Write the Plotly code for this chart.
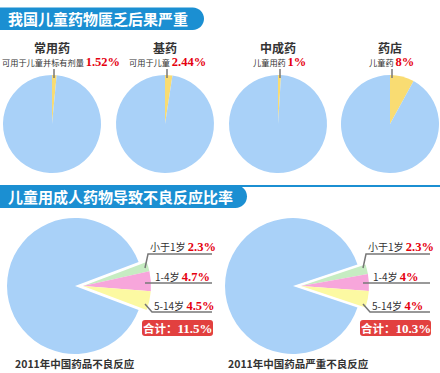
import plotly.graph_objects as go

W, H = 440, 373

# ---------------- data ----------------
section_titles = ["我国儿童药物匮乏后果严重", "儿童用成人药物导致不良反应比率"]

top_titles = ["常用药", "基药", "中成药", "药店"]
top_subtitles = ["可用于儿童并标有剂量", "可用于儿童", "儿童用药", "儿童药"]
top_values = [1.52, 2.44, 1.0, 8.0]
top_pct_labels = ["1.52%", "2.44%", "1%", "8%"]

age_groups = ["小于1岁", "1-4岁", "5-14岁"]
adr_all = [2.3, 4.7, 4.5]
adr_serious = [2.3, 4.0, 4.0]
adr_pct_labels = [["2.3%", "4.7%", "4.5%"], ["2.3%", "4%", "4%"]]
bottom_totals = ["11.5%", "10.3%"]
bottom_captions = ["2011年中国药品不良反应", "2011年中国药品严重不良反应"]

# ---------------- styles ----------------
FONT = "Noto Sans CJK SC"
NUMFONT = "Liberation Serif"
BANNER = "#1b8fd2"
PIE_BLUE = "#a9d1f8"
TOP_YELLOW = "#f9dc72"
AGE_COLORS = ["#c6ecc2", "#f7a6db", "#fcf9a2"]
RED = "#e5000f"
BOX_RED = "#e2403f"
TXT = "#333333"


def X(px):
    return px / W


def Y(py):
    return 1 - py / H


def P(px, py):
    return f"{X(px):.5f},{Y(py):.5f}"


fig = go.Figure()
shapes = []
annotations = []


def num_span(t, size=13):
    return (f"<span style='font-family:{NUMFONT};font-size:{size}px;"
            f"color:{RED};font-weight:bold'><b>{t}</b></span>")


# ---------------- banners ----------------
def banner(y0, y1, xend, text, line=False):
    r = (y1 - y0) / 2
    x1 = xend - r
    ym = (y0 + y1) / 2
    k = 0.55 * r
    path = (f"M {P(0, y0)} L {P(x1, y0)} "
            f"C {P(x1 + k, y0)} {P(xend, ym - k)} {P(xend, ym)} "
            f"C {P(xend, ym + k)} {P(x1 + k, y1)} {P(x1, y1)} "
            f"L {P(0, y1)} Z")
    shapes.append(dict(type="path", xref="paper", yref="paper", path=path,
                       fillcolor=BANNER, line=dict(width=0), layer="above"))
    if line:
        shapes.append(dict(type="line", xref="paper", yref="paper",
                           x0=X(x1), x1=X(W), y0=Y(y0 + 1), y1=Y(y0 + 1),
                           line=dict(color=BANNER, width=2), layer="above"))
    annotations.append(dict(xref="paper", yref="paper", x=X(6), y=Y(ym),
                            xanchor="left", yanchor="middle", showarrow=False,
                            text=f"<b>{text}</b>",
                            font=dict(family=FONT, size=15, color="white")))


banner(7.5, 30, 204, section_titles[0])
banner(185, 208, 247, section_titles[1], line=True)

# ---------------- top pies ----------------
top_cx = [52, 165, 278, 390]
top_sub_cx = [61, 167, 279, 391]
cy, r = 124, 49
for i in range(4):
    cx = top_cx[i]
    fig.add_trace(go.Pie(
        values=[top_values[i], 100 - top_values[i]],
        labels=[top_titles[i], "其他"],
        marker=dict(colors=[TOP_YELLOW, PIE_BLUE], line=dict(width=0)),
        sort=False, direction="clockwise", rotation=0,
        textinfo="none", hoverinfo="skip", showlegend=False,
        domain=dict(x=[X(cx - r), X(cx + r)], y=[Y(cy + r), Y(cy - r)]),
    ))
    annotations.append(dict(xref="paper", yref="paper", x=X(cx), y=Y(48),
                            xanchor="center", yanchor="middle", showarrow=False,
                            text=f"<b>{top_titles[i]}</b>",
                            font=dict(family=FONT, size=12, color=TXT)))
    annotations.append(dict(xref="paper", yref="paper", x=X(top_sub_cx[i]), y=Y(62),
                            xanchor="center", yanchor="middle", showarrow=False,
                            text=f"{top_subtitles[i]} {num_span(top_pct_labels[i], 12.5)}",
                            font=dict(family=FONT, size=8.2, color=TXT)))
    shapes.append(dict(type="line", xref="paper", yref="paper",
                       x0=X(cx + 2), x1=X(cx + 2), y0=Y(69), y1=Y(78),
                       line=dict(color="#777777", width=1.5), layer="above"))

# ---------------- bottom pies ----------------
bot_cx = [75, 293]
bot_cy, br = 286, 68
shift = 8
cap_x = [75, 298]
for j, vals in enumerate([adr_all, adr_serious]):
    cx = bot_cx[j]
    rest = 100 - sum(vals)
    rot = 90 - sum(vals) * 3.6 / 2
    allv = list(vals) + [rest]
    labs = age_groups + ["其他"]
    # main blue body
    fig.add_trace(go.Pie(
        values=allv, labels=labs,
        marker=dict(colors=["rgba(0,0,0,0)"] * 3 + [PIE_BLUE], line=dict(width=0)),
        sort=False, direction="clockwise", rotation=rot,
        textinfo="none", hoverinfo="skip", showlegend=False,
        domain=dict(x=[X(cx - br), X(cx + br)], y=[Y(bot_cy + br), Y(bot_cy - br)]),
    ))
    # pulled-out age slices
    fig.add_trace(go.Pie(
        values=allv, labels=labs,
        marker=dict(colors=AGE_COLORS + ["rgba(0,0,0,0)"], line=dict(width=0)),
        sort=False, direction="clockwise", rotation=rot,
        textinfo="none", hoverinfo="skip", showlegend=False,
        domain=dict(x=[X(cx - br + shift), X(cx + br + shift)],
                    y=[Y(bot_cy + br), Y(bot_cy - br)]),
    ))
    gl = dict(color="#777777", width=1.5)
    # leader lines
    shapes.append(dict(type="path", xref="paper", yref="paper", layer="above",
                       path=f"M {P(cx + 70, 268)} L {P(cx + 73, 254)} L {P(cx + 137, 254)}",
                       line=gl))
    shapes.append(dict(type="line", xref="paper", yref="paper", layer="above",
                       x0=X(cx + 70), x1=X(cx + 137), y0=Y(283), y1=Y(283), line=gl))
    shapes.append(dict(type="path", xref="paper", yref="paper", layer="above",
                       path=f"M {P(cx + 70, 304)} L {P(cx + 77, 312)} L {P(cx + 137, 312)}",
                       line=gl))
    label_pos = [(cx + 73, 246), (cx + 78, 276), (cx + 77, 305)]
    for k in range(3):
        annotations.append(dict(xref="paper", yref="paper", x=X(label_pos[k][0]),
                                y=Y(label_pos[k][1]), xanchor="left", yanchor="middle",
                                showarrow=False,
                                text=f"{age_groups[k]} {num_span(adr_pct_labels[j][k], 12.5)}",
                                font=dict(family=FONT, size=10, color=TXT)))
    # total box
    bx0, bx1, by0, by1, rr = cx + 67, cx + 138, 320, 336, 3
    path = (f"M {P(bx0 + rr, by0)} L {P(bx1 - rr, by0)} Q {P(bx1, by0)} {P(bx1, by0 + rr)} "
            f"L {P(bx1, by1 - rr)} Q {P(bx1, by1)} {P(bx1 - rr, by1)} "
            f"L {P(bx0 + rr, by1)} Q {P(bx0, by1)} {P(bx0, by1 - rr)} "
            f"L {P(bx0, by0 + rr)} Q {P(bx0, by0)} {P(bx0 + rr, by0)} Z")
    shapes.append(dict(type="path", xref="paper", yref="paper", path=path,
                       fillcolor=BOX_RED, line=dict(width=0), layer="above"))
    annotations.append(dict(xref="paper", yref="paper", x=X((bx0 + bx1) / 2), y=Y(328),
                            xanchor="center", yanchor="middle", showarrow=False,
                            text=(f"<b>合计：</b><span style='font-family:{NUMFONT};font-size:13px'>"
                                  f"<b>{bottom_totals[j]}</b></span>"),
                            font=dict(family=FONT, size=11.5, color="white")))
    annotations.append(dict(xref="paper", yref="paper", x=X(cap_x[j]), y=Y(363),
                            xanchor="center", yanchor="middle", showarrow=False,
                            text=f"<b>{bottom_captions[j]}</b>",
                            font=dict(family=FONT, size=10.5, color=TXT)))

fig.update_layout(
    width=W, height=H, margin=dict(l=0, r=0, t=0, b=0),
    paper_bgcolor="white", plot_bgcolor="white",
    shapes=shapes, annotations=annotations, showlegend=False,
)

fig.write_html(
    "out.html",
    config={"displayModeBar": False},
    post_script="document.body.style.margin='0px';document.body.style.padding='0px';"
                "document.body.style.overflow='hidden';",
)
